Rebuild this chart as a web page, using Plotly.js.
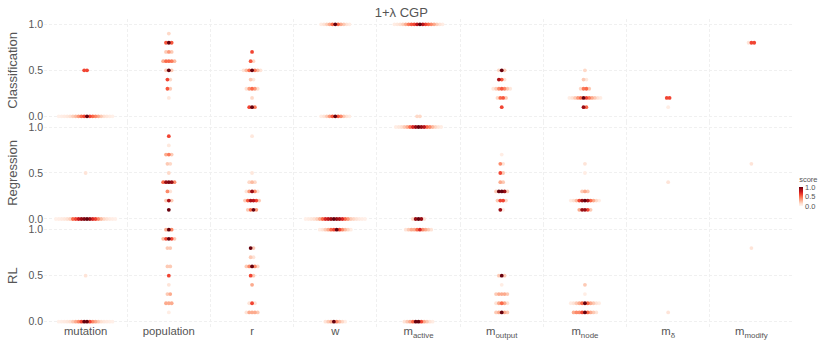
<!DOCTYPE html>
<html><head><meta charset="utf-8">
<script src="https://cdn.plot.ly/plotly-3.0.1.min.js"></script>
<style>body{margin:0;background:#fff}#chart{width:830px;height:346px}</style>
</head><body><div id="chart"></div>
<script>
const categories = ['mutation','population','r','w','m_active','m_output','m_node','m_delta','m_modify'];
const tickLabels = ['mutation','population','r','w','m<sub>active</sub>','m<sub>output</sub>','m<sub>node</sub>','m<sub>δ</sub>','m<sub>modify</sub>'];
const panelTitles = ['Classification','Regression','RL'];
const colorTicks = [0, 0.5, 1];
const colorTickText = ['0.0','0.5','1.0'];

// rows: [category, y value, scores left-to-right]
const classificationRows = [
  ['mutation',0.0,[0.03,0.04,0.06,0.08,0.12,0.18,0.25,0.35,0.5,0.6,1.0,0.6,0.5,0.4,0.3,0.2,0.12,0.08,0.05,0.03]],
  ['mutation',0.5,[0.6,0.6]],
  ['population',0.9,[0.15]],
  ['population',0.8,[0.55,1.0,0.55]],
  ['population',0.7,[0.2,0.35,0.2]],
  ['population',0.6,[0.3,0.5,0.5,0.45,0.25]],
  ['population',0.5,[0.2,1.0,0.2]],
  ['population',0.4,[0.6,0.15]],
  ['population',0.3,[0.55,0.2]],
  ['population',0.2,[0.08]],
  ['r',0.7,[0.6]],
  ['r',0.6,[0.55,0.15]],
  ['r',0.5,[0.1,0.25,0.5,1.0,0.45,0.25,0.1]],
  ['r',0.4,[0.2,0.08]],
  ['r',0.3,[0.12,0.35,0.5,0.35,0.12]],
  ['r',0.2,[0.15]],
  ['r',0.1,[0.6,1.0,0.45]],
  ['w',1.0,[0.05,0.1,0.18,0.3,0.5,1.0,0.5,0.3,0.2,0.1,0.05]],
  ['w',0.0,[0.05,0.1,0.2,0.35,0.55,1.0,0.55,0.4,0.2,0.1,0.05]],
  ['m_active',1.0,[0.05,0.08,0.12,0.18,0.3,0.45,0.55,0.6,0.8,1.0,0.8,0.6,0.5,0.4,0.3,0.18,0.1,0.05]],
  ['m_active',0.0,[0.15,0.15]],
  ['m_output',0.5,[0.15,1.0,0.2]],
  ['m_output',0.4,[0.85,0.55,0.1]],
  ['m_output',0.3,[0.08,0.2,0.4,0.55,0.4,0.2,0.08]],
  ['m_output',0.2,[0.15,0.5,0.55,0.2]],
  ['m_output',0.1,[0.6]],
  ['m_node',0.5,[0.15]],
  ['m_node',0.4,[0.2,0.08]],
  ['m_node',0.3,[0.15,0.45,0.5,0.2]],
  ['m_node',0.2,[0.05,0.1,0.2,0.35,0.5,1.0,0.6,0.45,0.3,0.2,0.1,0.05]],
  ['m_node',0.1,[0.9,0.5]],
  ['m_delta',0.2,[0.6,0.6]],
  ['m_delta',0.1,[0.05]],
  ['m_modify',0.8,[0.1,0.6,0.6]]
];
const regressionRows = [
  ['mutation',0.0,[0.03,0.04,0.06,0.08,0.12,0.18,0.5,0.6,0.75,0.9,0.95,1.0,0.9,0.7,0.6,0.4,0.25,0.15,0.1,0.06,0.04,0.03]],
  ['mutation',0.5,[0.1]],
  ['population',0.9,[0.6]],
  ['population',0.8,[0.08]],
  ['population',0.7,[0.3,0.45,0.2]],
  ['population',0.6,[0.2,0.15]],
  ['population',0.5,[0.15]],
  ['population',0.4,[0.5,0.9,0.95,0.9,0.4]],
  ['population',0.3,[0.4,0.1]],
  ['population',0.2,[0.2,0.85,0.2]],
  ['population',0.1,[1.0]],
  ['r',0.9,[0.08]],
  ['r',0.5,[0.08]],
  ['r',0.4,[0.15,0.25,0.15]],
  ['r',0.3,[0.1,0.35,0.9,0.4,0.1]],
  ['r',0.2,[0.2,0.55,0.85,0.8,0.6,0.2]],
  ['r',0.1,[0.2,0.5,1.0,0.35]],
  ['w',0.0,[0.03,0.05,0.08,0.12,0.18,0.3,0.5,0.7,0.8,0.9,1.0,0.9,0.85,0.7,0.5,0.35,0.2,0.15,0.1,0.06,0.04,0.03]],
  ['m_active',1.0,[0.05,0.08,0.12,0.2,0.3,0.5,0.7,0.9,1.0,0.9,0.8,0.5,0.4,0.25,0.15,0.08,0.05]],
  ['m_active',0.0,[0.15,0.9,1.0,0.9,0.1]],
  ['m_output',0.7,[0.05]],
  ['m_output',0.6,[0.4,0.1]],
  ['m_output',0.5,[0.6,0.2]],
  ['m_output',0.4,[0.3,0.2]],
  ['m_output',0.3,[0.2,1.0,1.0,0.9,0.2]],
  ['m_output',0.2,[0.2,0.6,0.6,0.15]],
  ['m_output',0.1,[0.9,0.05]],
  ['m_node',0.6,[0.1]],
  ['m_node',0.5,[0.05]],
  ['m_node',0.3,[0.2,0.3,0.2]],
  ['m_node',0.2,[0.05,0.12,0.25,0.6,0.9,1.0,0.85,0.5,0.3,0.15,0.05]],
  ['m_node',0.1,[0.3,0.9,0.9,0.6,0.2]],
  ['m_delta',0.4,[0.1]],
  ['m_modify',0.6,[0.1]]
];
const rlRows = [
  ['mutation',0.0,[0.03,0.04,0.06,0.08,0.12,0.2,0.3,0.4,0.6,1.0,1.0,0.6,0.4,0.3,0.2,0.12,0.08,0.06,0.04,0.03]],
  ['mutation',0.5,[0.1]],
  ['population',1.0,[0.3,1.0,0.4]],
  ['population',0.9,[0.25,0.6,1.0,0.6,0.2]],
  ['population',0.8,[0.2,0.2]],
  ['population',0.6,[0.2,0.2]],
  ['population',0.5,[0.6]],
  ['population',0.4,[0.1]],
  ['population',0.3,[0.2,0.3]],
  ['population',0.2,[0.3,0.3,0.3]],
  ['population',0.1,[0.05]],
  ['r',0.8,[1.0,0.2]],
  ['r',0.7,[0.2,0.1]],
  ['r',0.6,[0.2,0.4,1.0,0.4,0.15]],
  ['r',0.5,[0.6,0.2]],
  ['r',0.4,[0.3]],
  ['r',0.2,[0.1,0.6,0.1]],
  ['r',0.1,[0.1,0.3,0.3,0.3,0.2]],
  ['w',1.0,[0.05,0.1,0.2,0.3,0.5,0.6,1.0,0.6,0.4,0.25,0.15,0.05]],
  ['w',0.0,[0.1,0.2,0.3,1.0,0.4,0.25,0.15,0.05]],
  ['m_active',1.0,[0.1,0.2,0.3,0.3,0.5,0.7,0.4,0.3,0.2,0.1]],
  ['m_active',0.0,[0.1,0.2,0.3,0.5,1.0,1.0,0.6,0.3,0.2,0.1,0.05]],
  ['m_output',0.5,[0.2,1.0,0.2]],
  ['m_output',0.4,[0.05]],
  ['m_output',0.3,[0.2,0.3,0.3,0.3,0.2]],
  ['m_output',0.2,[0.1,0.3,0.5,0.3,0.1]],
  ['m_output',0.1,[0.2,0.3,1.0,0.3,0.2]],
  ['m_node',0.4,[0.2]],
  ['m_node',0.3,[0.05]],
  ['m_node',0.2,[0.05,0.1,0.2,0.3,0.5,1.0,0.5,0.3,0.2,0.1,0.05]],
  ['m_node',0.1,[0.3,0.4,0.4,0.6,1.0,0.5,0.3,0.2,0.1]],
  ['m_delta',0.1,[0.1]],
  ['m_modify',0.8,[0.1]]
];

const DODGE = 0.034; // horizontal spacing of stacked points, in category units
const reds = [[0,'#fff5f0'],[0.125,'#fee0d2'],[0.25,'#fcbba1'],[0.375,'#fc9272'],[0.5,'#fb6a4a'],[0.625,'#ef3b2c'],[0.75,'#cb181d'],[0.875,'#a50f15'],[1,'#67000d']];

function buildTrace(rows, yaxis){
  const pts = [];
  rows.forEach(([cat, yv, scores]) => {
    const ci = categories.indexOf(cat);
    const n = scores.length;
    scores.forEach((s, i) => pts.push({x: ci + (i - (n-1)/2)*DODGE, y: yv, c: s}));
  });
  pts.sort((a,b)=>a.c-b.c);
  return {type:'scatter', mode:'markers', xaxis:'x', yaxis:yaxis,
    x: pts.map(p=>p.x), y: pts.map(p=>p.y),
    marker:{size:3.8, color: pts.map(p=>p.c), coloraxis:'coloraxis', line:{width:0}},
    hoverinfo:'skip', showlegend:false};
}

const traces = [buildTrace(classificationRows,'y'), buildTrace(regressionRows,'y2'), buildTrace(rlRows,'y3')];

const gridCol = '#f0f0f0';
const txt = '#555555';
const fontFam = 'Liberation Sans, Arial, sans-serif';
function yax(domain, title){
  return {domain: domain, range:[-0.058,1.058], tickvals:[0,0.5,1], ticktext:['0.0','0.5','1.0'],
    showgrid:true, gridcolor:gridCol, griddash:'3px,2px', gridwidth:1, zeroline:false, showline:false, ticks:'',
    tickfont:{size:10.5, color:txt, family:fontFam}, anchor:'x', fixedrange:true,
    title:{text:title, font:{size:13, color:txt, family:fontFam}, standoff:7}, automargin:false};
}
const layout = {
  width:830, height:346, paper_bgcolor:'#fff', plot_bgcolor:'#fff',
  margin:{l:43.5, r:28.3, t:18.6, b:19},
  font:{family:fontFam, color:txt},
  title:{text:'1+λ CGP', x:0.477, xref:'paper', xanchor:'center', y:1-12/346, yref:'container', yanchor:'middle', font:{size:13, color:txt, family:fontFam}},
  xaxis:{range:[-0.5,8.5], tickvals: categories.map((c,i)=>i), ticktext: tickLabels, showgrid:false, zeroline:false, showline:false, ticks:'',
    tickfont:{size:11.3, color:txt, family:fontFam}, anchor:'y3', automargin:false, fixedrange:true, ticklabelstandoff:-4,
    minor:{tickmode:'array', tickvals: categories.slice(1).map((c,i)=>i+0.5), showgrid:true, gridcolor:gridCol, griddash:'3px,2px', gridwidth:1, ticks:''}},
  yaxis: yax([2/3,1], panelTitles[0]),
  yaxis2: yax([1/3,2/3], panelTitles[1]),
  yaxis3: yax([0,1/3], panelTitles[2]),
  coloraxis:{cmin:0, cmax:1, colorscale: reds,
    colorbar:{x:1.0083, xanchor:'left', xpad:0, y:0.446, yanchor:'middle', len:33, lenmode:'pixels', thickness:4, ypad:0,
      outlinewidth:0, tickvals:colorTicks, ticktext:colorTickText, ticks:'', tickfont:{size:7.5, color:txt, family:fontFam},
      title:{text:'score', side:'top', font:{size:7.5, color:txt, family:fontFam}}}}
};
Plotly.newPlot('chart', traces, layout, {displayModeBar:false, staticPlot:true});
</script></body></html>
